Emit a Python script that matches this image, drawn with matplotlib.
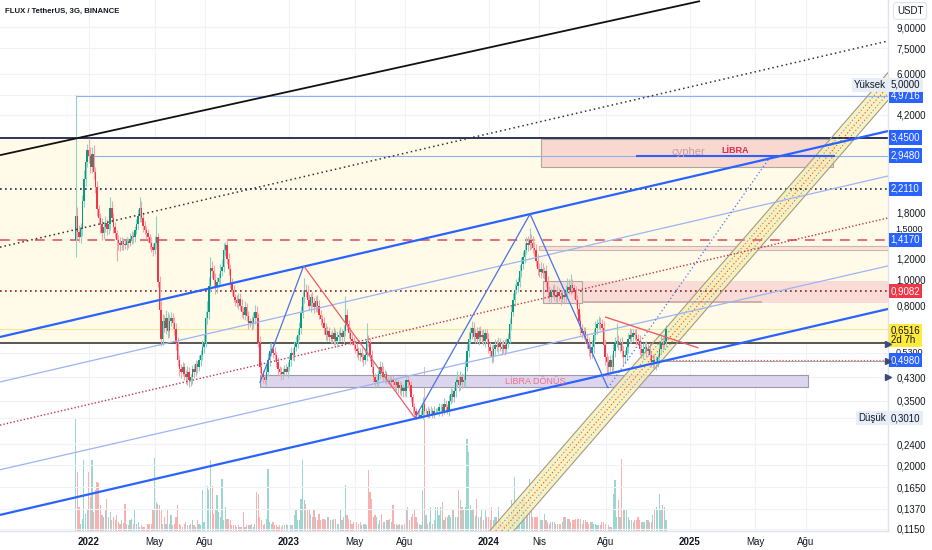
import numpy as np
import matplotlib
matplotlib.use("Agg")
import matplotlib.pyplot as plt
import matplotlib.dates as mdates
from matplotlib.patches import Rectangle, Polygon

plt.rcParams["font.family"] = ["Liberation Sans", "DejaVu Sans"]

# ---- candles (3 day) ----
FIRST_CANDLE = "2021-12-08"
FIRST_OPEN = 1.42
CLOSES = [
    1.74, 1.52, 1.45, 1.56, 1.98, 2.41, 2.80, 3.10, 2.95, 2.66,
    3.00, 2.55, 2.24, 1.85, 1.71, 1.62, 1.50, 1.58, 1.64, 1.56,
    1.62, 1.87, 1.72, 1.58, 1.50, 1.42, 1.38, 1.35, 1.40, 1.37,
    1.36, 1.40, 1.38, 1.43, 1.47, 1.45, 1.54, 1.62, 1.75, 1.87,
    1.72, 1.60, 1.55, 1.50, 1.45, 1.38, 1.33, 1.30, 1.38, 1.45,
    0.98, 0.77, 0.60, 0.70, 0.66, 0.72, 0.64, 0.70, 0.72, 0.69,
    0.65, 0.58, 0.50, 0.46, 0.45, 0.47, 0.44, 0.43, 0.45, 0.42,
    0.43, 0.46, 0.45, 0.48, 0.47, 0.50, 0.52, 0.56, 0.58, 0.72,
    0.76, 0.95, 1.11, 1.08, 1.00, 0.94, 0.98, 1.02, 1.08, 1.12,
    1.30, 1.36, 1.20, 1.10, 0.97, 0.92, 0.86, 0.84, 0.82, 0.85,
    0.80, 0.76, 0.74, 0.79, 0.73, 0.69, 0.70, 0.68, 0.72, 0.76,
    0.72, 0.58, 0.47, 0.44, 0.43, 0.42, 0.45, 0.50, 0.54, 0.55,
    0.53, 0.52, 0.49, 0.46, 0.45, 0.44, 0.45, 0.46, 0.45, 0.47,
    0.50, 0.53, 0.52, 0.56, 0.58, 0.62, 0.66, 0.75, 0.86, 0.92,
    0.90, 0.84, 0.80, 0.86, 0.82, 0.79, 0.83, 0.80, 0.74, 0.71,
    0.69, 0.66, 0.62, 0.64, 0.61, 0.62, 0.60, 0.63, 0.59, 0.61,
    0.62, 0.63, 0.61, 0.64, 0.74, 0.68, 0.63, 0.60, 0.59, 0.57,
    0.55, 0.54, 0.52, 0.53, 0.51, 0.50, 0.52, 0.59, 0.58, 0.52,
    0.47, 0.43, 0.41, 0.42, 0.44, 0.47, 0.45, 0.43, 0.44, 0.42,
    0.42, 0.41, 0.42, 0.41, 0.40, 0.41, 0.39, 0.40, 0.38, 0.39,
    0.38, 0.42, 0.41, 0.40, 0.36, 0.33, 0.32, 0.31, 0.31, 0.305,
    0.31, 0.34, 0.32, 0.32, 0.31, 0.32, 0.32, 0.31, 0.32, 0.32,
    0.32, 0.33, 0.33, 0.32, 0.34, 0.33, 0.32, 0.35, 0.37, 0.36,
    0.38, 0.41, 0.42, 0.40, 0.43, 0.41, 0.42, 0.47, 0.54, 0.60,
    0.63, 0.66, 0.61, 0.63, 0.60, 0.64, 0.61, 0.62, 0.59, 0.63,
    0.60, 0.56, 0.54, 0.51, 0.55, 0.57, 0.56, 0.58, 0.56, 0.55,
    0.57, 0.55, 0.58, 0.60, 0.68, 0.76, 0.84, 0.92, 0.95, 0.98,
    1.08, 1.15, 1.22, 1.30, 1.38, 1.35, 1.42, 1.38, 1.32, 1.30,
    1.18, 1.10, 1.07, 1.10, 1.06, 1.08, 0.98, 0.90, 0.86, 0.90,
    0.92, 0.88, 0.86, 0.90, 0.87, 0.85, 0.88, 0.86, 0.90, 0.94,
    0.92, 0.96, 0.93, 0.90, 0.84, 0.78, 0.70, 0.65, 0.63, 0.64,
    0.60, 0.58, 0.55, 0.53, 0.56, 0.62, 0.66, 0.68, 0.69, 0.68,
    0.66, 0.57, 0.51, 0.49, 0.47, 0.50, 0.47, 0.54, 0.58, 0.59,
    0.57, 0.58, 0.54, 0.51, 0.52, 0.56, 0.60, 0.62, 0.61, 0.63,
    0.62, 0.60, 0.59, 0.55, 0.53, 0.55, 0.56, 0.54, 0.55, 0.52,
    0.49, 0.50, 0.48, 0.49, 0.51, 0.55, 0.58, 0.57, 0.59, 0.6516,
]
# wick length above / below the body, in percent
UP_WICK = [
    186, 8, 6, 5, 6, 8, 6, 5, 11, 8,
    6, 8, 5, 6, 4, 5, 6, 5, 6, 4,
    5, 10, 6, 4, 5, 3, 4, 5, 4, 3,
    3, 4, 3, 5, 4, 3, 4, 5, 6, 10,
    6, 5, 4, 3, 4, 3, 5, 4, 6, 20,
    4, 6, 8, 6, 5, 7, 5, 6, 5, 4,
    5, 6, 5, 4, 5, 4, 3, 4, 5, 4,
    3, 4, 5, 4, 3, 4, 5, 6, 8, 6,
    10, 8, 10, 6, 5, 6, 5, 4, 6, 7,
    6, 2, 6, 5, 4, 5, 4, 3, 4, 5,
    5, 6, 4, 5, 4, 5, 3, 4, 5, 6,
    5, 4, 6, 5, 4, 3, 5, 6, 7, 5,
    4, 5, 3, 4, 3, 4, 3, 4, 5, 4,
    4, 5, 4, 5, 6, 5, 5, 6, 7, 11,
    5, 6, 5, 4, 5, 4, 5, 6, 5, 4,
    4, 5, 4, 5, 4, 3, 4, 5, 4, 5,
    4, 5, 4, 6, 18, 5, 4, 5, 4, 3,
    4, 5, 3, 4, 5, 4, 6, 17, 5, 4,
    5, 4, 4, 5, 4, 5, 4, 5, 4, 3,
    3, 4, 3, 4, 3, 4, 3, 4, 3, 4,
    4, 5, 4, 3, 4, 3, 4, 3, 3, 4,
    4, 6, 4, 3, 4, 3, 4, 3, 4, 3,
    3, 4, 3, 4, 5, 4, 3, 5, 6, 5,
    4, 5, 8, 4, 5, 4, 5, 6, 6, 6,
    5, 6, 5, 4, 5, 4, 5, 4, 5, 4,
    4, 5, 4, 5, 4, 5, 4, 5, 4, 5,
    4, 5, 4, 5, 6, 5, 6, 5, 6, 5,
    5, 6, 5, 6, 5, 6, 11, 5, 6, 5,
    5, 6, 5, 6, 5, 4, 5, 6, 5, 4,
    4, 5, 4, 5, 4, 5, 4, 5, 6, 8,
    7, 10, 5, 4, 5, 4, 5, 6, 5, 4,
    4, 5, 4, 5, 6, 5, 6, 5, 6, 5,
    5, 6, 5, 4, 5, 4, 5, 6, 5, 17,
    5, 4, 5, 4, 5, 4, 5, 6, 5, 4,
    4, 5, 4, 5, 4, 5, 4, 5, 4, 5,
    4, 5, 4, 5, 4, 5, 6, 5, 6, 4,
]
DN_WICK = [
    14, 5, 4, 5, 6, 5, 6, 5, 6, 5,
    5, 6, 5, 6, 5, 7, 6, 5, 4, 5,
    4, 5, 4, 5, 4, 17, 6, 5, 4, 5,
    4, 5, 4, 3, 4, 5, 4, 3, 4, 5,
    4, 5, 4, 5, 4, 5, 4, 5, 4, 5,
    4, 5, 6, 5, 4, 5, 6, 5, 4, 5,
    5, 6, 5, 6, 5, 4, 5, 6, 7, 6,
    5, 6, 5, 4, 5, 4, 5, 4, 5, 4,
    5, 6, 5, 6, 5, 6, 5, 4, 5, 4,
    4, 5, 4, 5, 4, 5, 4, 5, 4, 5,
    4, 5, 4, 5, 4, 5, 4, 5, 4, 5,
    5, 4, 5, 4, 5, 4, 5, 4, 5, 4,
    4, 5, 4, 5, 4, 5, 4, 3, 4, 5,
    4, 5, 4, 5, 4, 5, 4, 5, 4, 5,
    4, 5, 4, 5, 4, 5, 4, 5, 4, 5,
    4, 5, 4, 5, 4, 5, 4, 5, 4, 5,
    4, 5, 4, 5, 4, 5, 4, 5, 4, 5,
    4, 5, 4, 5, 4, 5, 4, 5, 4, 5,
    5, 4, 5, 4, 5, 4, 5, 4, 5, 4,
    4, 5, 4, 5, 4, 5, 4, 5, 4, 5,
    4, 5, 4, 5, 4, 5, 4, 4, 3, 1,
    1, 4, 3, 3, 3, 3, 3, 3, 3, 3,
    3, 4, 3, 4, 3, 4, 3, 4, 3, 4,
    4, 5, 4, 5, 4, 5, 4, 5, 4, 5,
    4, 5, 4, 5, 4, 5, 4, 5, 4, 5,
    4, 5, 4, 5, 4, 5, 4, 5, 4, 5,
    4, 5, 4, 5, 4, 5, 4, 5, 4, 5,
    4, 5, 4, 5, 4, 5, 4, 5, 4, 5,
    4, 5, 4, 5, 4, 5, 4, 5, 4, 5,
    4, 5, 4, 5, 4, 5, 4, 5, 4, 5,
    4, 5, 4, 5, 4, 5, 4, 5, 4, 5,
    4, 5, 6, 5, 4, 5, 4, 5, 4, 5,
    4, 5, 6, 12, 5, 6, 5, 4, 5, 4,
    5, 6, 5, 6, 5, 4, 5, 4, 5, 4,
    4, 5, 4, 5, 4, 5, 4, 5, 4, 5,
    4, 5, 4, 5, 4, 5, 4, 5, 4, 5,
]
VOLUME = [
    112, 59, 24, 7, 12, 71, 17, 22, 59, 34,
    71, 19, 41, 49, 48, 26, 16, 14, 21, 32,
    14, 19, 11, 14, 11, 16, 9, 7, 11, 8,
    27, 7, 6, 11, 12, 7, 22, 7, 9, 4,
    6, 4, 4, 2, 7, 7, 7, 21, 73, 29,
    27, 26, 21, 7, 14, 7, 21, 7, 16, 6,
    7, 14, 26, 7, 6, 4, 7, 9, 6, 6,
    7, 11, 6, 4, 11, 7, 6, 41, 9, 42,
    45, 41, 71, 45, 17, 22, 36, 19, 14, 52,
    11, 24, 12, 12, 11, 6, 6, 6, 4, 6,
    4, 4, 19, 4, 6, 6, 6, 7, 4, 7,
    39, 37, 14, 11, 6, 7, 12, 62, 9, 7,
    9, 6, 6, 4, 6, 4, 6, 6, 7, 6,
    6, 6, 6, 16, 21, 11, 11, 32, 71, 31,
    27, 22, 21, 17, 14, 21, 14, 11, 17, 11,
    12, 12, 11, 14, 14, 11, 11, 12, 12, 7,
    7, 22, 11, 14, 46, 16, 12, 11, 7, 9,
    7, 9, 7, 9, 6, 7, 7, 6, 61, 39,
    32, 14, 16, 14, 7, 11, 17, 9, 9, 11,
    11, 12, 9, 26, 7, 7, 6, 7, 6, 6,
    7, 21, 24, 11, 14, 17, 21, 14, 9, 7,
    6, 41, 164, 16, 7, 9, 24, 7, 11, 24,
    24, 16, 24, 29, 11, 14, 14, 16, 14, 22,
    22, 14, 14, 41, 31, 24, 21, 24, 92, 79,
    26, 22, 21, 15, 32, 14, 14, 21, 11, 21,
    14, 14, 11, 24, 11, 14, 14, 24, 11, 7,
    7, 7, 11, 21, 14, 31, 21, 54, 31, 24,
    31, 32, 34, 32, 29, 24, 52, 24, 14, 14,
    14, 14, 14, 11, 11, 17, 11, 9, 7, 9,
    9, 9, 7, 7, 7, 7, 9, 14, 14, 12,
    12, 9, 11, 11, 12, 12, 12, 12, 7, 11,
    11, 9, 7, 9, 9, 7, 7, 6, 6, 6,
    9, 9, 7, 11, 6, 4, 4, 37, 51, 14,
    31, 14, 72, 22, 22, 22, 14, 11, 11, 9,
    11, 11, 14, 11, 9, 9, 9, 11, 11, 9,
    9, 16, 22, 24, 21, 37, 21, 26, 24, 11,
]

X_START, X_END = "2021-07-23", "2025-12-29"
Y_MIN, Y_MAX = 0.1127, 11.41

TIME_TICKS = ["2022-01-01", "2022-05-01", "2022-08-01", "2023-01-01", "2023-05-01", "2023-08-01",
              "2024-01-01", "2024-04-01", "2024-08-01", "2025-01-01", "2025-05-01", "2025-08-01"]
TIME_LABELS = ["2022", "May", "Ağu", "2023", "May", "Ağu", "2024", "Nis", "Ağu", "2025", "May", "Ağu"]
PRICE_TICKS = [9.0, 7.5, 6.0, 4.2, 1.8, 1.2, 1.0, 0.8, 0.43, 0.35, 0.24, 0.2, 0.165, 0.137, 0.115]
GRID_EXTRA = [5.0, 1.5, 0.65, 0.53, 0.30]
# tick labels squeezed between the coloured labels: text, where it is drawn
SQUEEZED_TICKS = [("1,5000", 1.56), ("0,5300", 0.535)]

# ---- drawings (date, price) ----
# horizontal lines: price, colour, style, width, start date
HLINES = [
    (4.9716, "#8eaef5", "-", 0.8, "2021-12-08"),
    (3.45, "#1b2550", "-", 1.3, X_START),
    (2.948, "#8eaef5", "-", 0.8, "2021-12-30"),
    (2.211, "#1b2550", (0, (1, 2)), 1.2, X_START),
    (1.417, "#e2707c", (0, (5, 4)), 1.4, X_START),
    (0.9082, "#8c1a2c", (0, (1, 2)), 1.2, X_START),
    (0.578, "#2a2a2a", "-", 1.1, X_START),
]
# sloped lines: date0, price0, date1, price1, colour, style, width
SLOPED = [
    ("2021-07-23", 2.96, "2025-01-20", 11.3, "#111111", "-", 1.3),
    ("2021-07-23", 1.33, "2025-12-29", 7.99, "#333333", (0, (1, 2)), 1.1),
    ("2021-07-23", 0.609, "2025-12-29", 3.65, "#2962ff", "-", 1.6),
    ("2021-07-23", 0.412, "2025-12-29", 2.47, "#9db4f5", "-", 0.9),
    ("2021-07-23", 0.283, "2025-12-29", 1.715, "#c0394b", (0, (1, 1.5)), 1.0),
    ("2021-07-23", 0.192, "2025-12-29", 1.13, "#9db4f5", "-", 0.9),
    ("2021-07-23", 0.1296, "2025-12-29", 0.777, "#2962ff", "-", 1.6),
    ("2022-11-09", 0.408, "2023-01-28", 1.13, "#4a72e8", "-", 0.9),
    ("2023-01-28", 1.13, "2023-08-19", 0.301, "#ef5b6b", "-", 0.9),
    ("2023-08-19", 0.301, "2024-03-16", 1.775, "#4a72e8", "-", 0.9),
    ("2024-03-16", 1.775, "2024-08-05", 0.391, "#4a72e8", "-", 0.9),
    ("2024-08-05", 0.391, "2025-05-28", 2.914, "#4a72e8", (0, (1, 2)), 0.9),
    ("2024-07-31", 0.725, "2025-01-17", 0.554, "#ef5b6b", "-", 1.0),
    ("2024-09-25", 2.948, "2025-09-23", 2.948, "#2962ff", "-", 1.5),
]
# boxes: date0, date1, price_lo, price_hi, fill, edge
BOXES = [
    ("2024-04-05", "2025-09-20", 2.67, 3.41, "#f9d8d0", "#b0a8a0"),
    ("2024-04-01", X_END, 1.30, 1.345, "#fbe0dc", "#c8b8b0"),
    ("2024-04-08", X_END, 0.82, 0.99, "#fadcd6", "none"),
    ("2024-04-08", "2024-06-19", 0.82, 0.99, "none", "#a8a8a8"),
    ("2022-11-09", "2025-08-05", 0.394, 0.438, "#ddd5ee", "#9a9aa8"),
]
# yellow rising channel: left border from (date, price) to (date, price), width in days
CHAN_START = ("2023-09-15", 0.0619)
CHAN_END = ("2026-04-23", 11.41)
CHAN_OFFSETS = [0, 11, 22, 33, 44]
CHAN_STYLES = [("#9e9a90", "-"), ("#5b86f0", (0, (1, 2))), ("#e8404f", (0, (1, 2))),
               ("#5b86f0", (0, (1, 2))), ("#9e9a90", "-")]

# right-hand price labels: price, text, background, text colour
PRICE_LABELS = [
    (4.9716, "4,9716", "#2962ff", "white"),
    (3.45, "3,4500", "#2962ff", "white"),
    (2.948, "2,9480", "#2962ff", "white"),
    (2.211, "2,2110", "#2962ff", "white"),
    (1.417, "1,4170", "#2962ff", "white"),
    (0.9082, "0,9082", "#f23645", "white"),
    (0.498, "0,4980", "#2962ff", "white"),
]


def d(s):
    return mdates.date2num(np.datetime64(s))


closes = np.array(CLOSES)
opens = np.r_[FIRST_OPEN, closes[:-1]]
top = np.maximum(opens, closes)
bot = np.minimum(opens, closes)
highs = top * (1 + np.array(UP_WICK) / 100)
lows = bot * (1 - np.array(DN_WICK) / 100)
rising = closes >= opens
dates = np.datetime64(FIRST_CANDLE) + np.arange(len(closes)) * np.timedelta64(3, "D")
xs = mdates.date2num(dates)

fig = plt.figure(figsize=(9.32, 5.5), dpi=100)
rect = [0, 19 / 550, 888 / 932, 531 / 550]
vax = fig.add_axes(rect, zorder=0)
ax = fig.add_axes(rect, zorder=1)
ax.patch.set_visible(False)

# volume underneath
vcol = np.where(rising, "#26a69a", "#ef5350")
vax.bar(xs, VOLUME, width=2.2, color=vcol, alpha=0.45, linewidth=0)
vax.set_xlim(d(X_START), d(X_END))
vax.set_ylim(0, 531)
vax.axis("off")

ax.set_yscale("log")
ax.set_xlim(d(X_START), d(X_END))
ax.set_ylim(Y_MIN, Y_MAX)

# grid
for t in TIME_TICKS:
    ax.axvline(d(t), color="#f0f2f7", lw=0.8, zorder=0)
for p in PRICE_TICKS + GRID_EXTRA:
    ax.axhline(p, color="#f0f2f7", lw=0.8, zorder=0)

# cream zone
ax.axhspan(0.578, 3.45, color="#fffbe8", zorder=0.5, lw=0)

for d0, d1, lo, hi, fc, ec in BOXES:
    ax.add_patch(Rectangle((d(d0), lo), d(d1) - d(d0), hi - lo, facecolor=fc,
                           edgecolor=ec, lw=0.8, zorder=1))

# yellow channel
(c0d, c0p), (c1d, c1p) = CHAN_START, CHAN_END
band = [(d(c0d), c0p), (d(c1d), c1p), (d(c1d) + CHAN_OFFSETS[-1], c1p), (d(c0d) + CHAN_OFFSETS[-1], c0p)]
ax.add_patch(Polygon(band, closed=True, facecolor="#fdeeaa", alpha=0.8, edgecolor="none", zorder=1.5))
for off, (col, ls) in zip(CHAN_OFFSETS, CHAN_STYLES):
    ax.plot([d(c0d) + off, d(c1d) + off], [c0p, c1p], color=col, ls=ls, lw=0.8, zorder=4)

for p, col, ls, lw, start in HLINES:
    ax.hlines(p, d(start), d(X_END), colors=col, linestyles=[ls], lw=lw, zorder=2)
ax.hlines(0.498, d("2024-11-02"), d(X_END), colors="#e25563", linestyles=[(0, (1, 1.5))], lw=0.9, zorder=2)
ax.hlines(0.493, d("2024-11-02"), d(X_END), colors="#9a9a9a", lw=0.6, zorder=2)
ax.axhline(0.6516, color="#f3e79a", lw=0.8, zorder=2)
ax.hlines(0.826, d("2024-06-19"), d("2025-05-13"), colors="#c9a8a4", lw=1.2, zorder=2)

# candles
wick_col = np.where(rising, "#8fd3c8", "#f5a3aa")
body_col = np.where(rising, "#089981", "#f23645")
ax.vlines(xs, lows, highs, colors=wick_col, lw=0.8, zorder=3)
ax.bar(xs, top - bot, bottom=bot, width=2.5, color=body_col, linewidth=0, zorder=3.2)

for d0, p0, d1, p1, col, ls, lw in SLOPED:
    ax.plot([d(d0), d(d1)], [p0, p1], color=col, ls=ls, lw=lw, zorder=4, solid_capstyle="butt")

# texts on the chart
ax.text(d("2024-12-29"), 3.04, "cypher", color="#c99aa4", fontsize=8, ha="center", va="center", zorder=5)
ax.text(d("2025-03-25"), 3.07, "LİBRA", color="#e0284f", fontsize=6.5, fontweight="bold",
        ha="center", va="center", zorder=5)
ax.text(d("2024-03-25"), 0.4155, "LİBRA DÖNÜŞ", color="#f06b8a", fontsize=6.5,
        ha="center", va="center", zorder=5)

# axes frame
for s in ["top", "left"]:
    ax.spines[s].set_visible(False)
for s in ["right", "bottom"]:
    ax.spines[s].set_color("#e0e3eb")
    ax.spines[s].set_linewidth(1)

ax.yaxis.tick_right()
ax.set_yticks(PRICE_TICKS)
ax.set_yticklabels([f"{p:.4f}".replace(".", ",") for p in PRICE_TICKS])
ax.yaxis.set_minor_locator(matplotlib.ticker.NullLocator())
ax.tick_params(axis="y", length=0, pad=6, labelsize=7, labelcolor="#131722")
ax.set_xticks([d(t) for t in TIME_TICKS])
ax.set_xticklabels(TIME_LABELS)
ax.tick_params(axis="x", length=0, pad=4, labelsize=7, labelcolor="#131722")
for lab in ax.get_xticklabels():
    if lab.get_text().isdigit():
        lab.set_fontweight("bold")

ytr = ax.get_yaxis_transform()
for txt, p in SQUEEZED_TICKS:
    ax.text(1.0085, p, txt, transform=ytr, ha="left", va="center", fontsize=6.5, color="#131722",
            clip_on=False, zorder=9)
for p, txt, bg, fg in PRICE_LABELS:
    ax.text(1.003, p, txt, transform=ytr, ha="left", va="center", fontsize=7, color=fg,
            bbox=dict(boxstyle="square,pad=0.22", fc=bg, ec="none"), clip_on=False, zorder=10)
ax.text(1.003, 0.617, "0,6516\n2d 7h", transform=ytr, ha="left", va="center", fontsize=7,
        color="#131722", linespacing=0.95,
        bbox=dict(boxstyle="square,pad=0.15", fc="#ffeb3b", ec="none"), clip_on=False, zorder=10)
ax.text(1.003, 5.45, "5,0000", transform=ytr, ha="left", va="center", fontsize=7, color="#131722",
        bbox=dict(boxstyle="square,pad=0.25", fc="#e8eef8", ec="none"), clip_on=False, zorder=10)
ax.text(0.998, 5.45, "Yüksek", transform=ytr, ha="right", va="center", fontsize=7, color="#131722",
        bbox=dict(boxstyle="square,pad=0.25", fc="#e8eef8", ec="none"), clip_on=False, zorder=10)
ax.text(1.003, 0.301, "0,3010", transform=ytr, ha="left", va="center", fontsize=7, color="#131722",
        bbox=dict(boxstyle="square,pad=0.25", fc="#e8eef8", ec="none"), clip_on=False, zorder=10)
ax.text(0.998, 0.301, "Düşük", transform=ytr, ha="right", va="center", fontsize=7, color="#131722",
        bbox=dict(boxstyle="square,pad=0.25", fc="#e8eef8", ec="none"), clip_on=False, zorder=10)
for p in [0.575, 0.494, 0.43]:
    ax.plot(1.0, p, marker=">", ms=4, color="#3b4a7a", transform=ytr, clip_on=False, zorder=10)

fig.text(5 / 932, 1 - 11 / 550, "FLUX / TetherUS, 3G, BINANCE", fontsize=5.6, fontweight="bold",
         color="#131722", ha="left", va="center")
fig.text(910 / 932, 1 - 11 / 550, "USDT", fontsize=7, color="#131722", ha="center", va="center",
         bbox=dict(boxstyle="round,pad=0.35", fc="white", ec="#e0e3eb", lw=0.8))

fig.savefig("out.png", dpi=100)
